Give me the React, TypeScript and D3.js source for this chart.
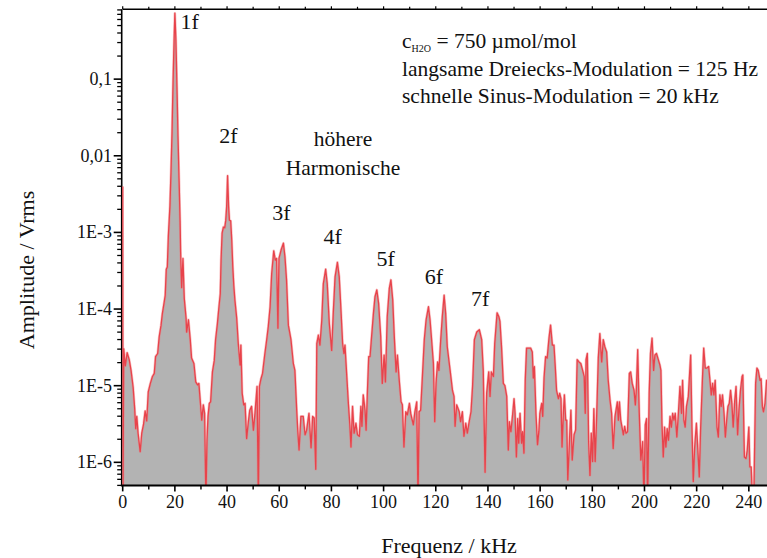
import React from "react";
import * as d3 from "d3";

// Frequency (kHz) of each vertex of the spectrum
const freqKHz = [
  0, 0.1, 0.4, 1.0, 1.7, 2.5, 3.2, 4.0, 4.6, 5.0, 5.4, 5.9, 6.7, 7.3, 8.0, 8.6, 9.2, 9.8, 10.6, 11.4,
  12.1, 12.6, 13.4, 14.0, 14.7, 15.2, 15.9, 16.3, 16.7, 17.1, 17.5, 18.1, 18.5, 18.9, 19.3, 19.7, 20.0, 20.4, 20.8, 21.2,
  21.6, 22.0, 22.2, 22.6, 23.1, 23.6, 24.3, 24.5, 25.2, 25.9, 26.4, 27.3, 28.0, 28.7, 29.2, 29.8, 30.3, 30.9, 31.4, 31.9,
  32.3, 32.7, 33.2, 33.7, 34.4, 35.1, 35.6, 36.3, 36.9, 37.4, 37.7, 38.1, 38.6, 39.1, 39.5, 39.85, 40.2, 40.6, 40.9, 41.4,
  41.8, 42.2, 42.6, 43.0, 43.7, 44.3, 45.0, 45.3, 45.8, 46.4, 46.9, 47.5, 48.1, 48.7, 49.4, 50.1, 50.7, 51.5, 52.0, 52.4,
  53.0, 53.6, 54.5, 55.2, 55.8, 56.5, 57.1, 57.9, 58.5, 59.0, 59.5, 59.9, 60.7, 61.6, 62.2, 62.8, 63.5, 64.5, 65.4, 66.0,
  66.7, 67.1, 67.6, 68.3, 69.2, 69.9, 70.5, 71.4, 72.2, 72.8, 73.4, 74.0, 74.4, 75.0, 75.6, 76.3, 76.9, 77.8, 78.4, 79.2,
  80.1, 80.7, 81.4, 82.3, 83.0, 83.6, 84.3, 84.8, 85.2, 85.9, 86.5, 87.1, 87.5, 88.1, 88.7, 89.4, 90.0, 90.7, 91.3, 91.7,
  92.2, 92.9, 93.3, 93.8, 94.3, 94.8, 95.4, 96.1, 96.7, 97.4, 98.1, 98.9, 99.5, 100.2, 100.7, 101.4, 102.2, 102.8, 103.5, 104.1,
  104.8, 105.3, 106.0, 106.7, 107.2, 107.8, 108.5, 109.1, 109.9, 110.4, 111.4, 112.0, 112.7, 113.2, 113.6, 114.2, 115.0, 115.6, 116.3, 117.2,
  117.8, 118.4, 119.1, 119.6, 120.1, 120.7, 121.2, 121.9, 122.5, 123.2, 123.8, 124.4, 125.5, 126.4, 127.0, 127.4, 128.0, 129.0, 129.5, 130.2,
  130.8, 131.5, 132.1, 132.7, 133.5, 134.1, 134.8, 135.7, 136.7, 137.6, 138.2, 138.9, 139.5, 140.3, 140.8, 141.3, 142.1, 142.6, 143.5, 144.2,
  144.6, 145.2, 145.9, 146.5, 147.2, 147.8, 148.2, 148.8, 149.5, 150.0, 150.4, 150.9, 151.4, 151.8, 152.3, 152.9, 153.3, 153.8, 154.3, 154.8,
  155.5, 156.4, 157.0, 157.4, 157.8, 158.4, 159.0, 159.5, 159.9, 160.6, 161.0, 161.5, 162.1, 162.7, 163.4, 164.0, 164.7, 165.3, 165.8, 166.3,
  167.0, 167.5, 168.0, 168.4, 168.9, 169.3, 169.8, 170.2, 170.6, 171.4, 171.8, 172.3, 173.0, 173.6, 174.2, 174.9, 175.6, 176.3, 176.9, 177.3,
  177.6, 178.1, 178.6, 179.1, 179.6, 180.1, 180.6, 181.1, 181.7, 182.3, 182.9, 183.6, 184.2, 184.8, 185.5, 186.1, 186.8, 187.4, 188.0, 188.7,
  189.6, 190.0, 190.4, 190.9, 191.9, 192.4, 192.9, 193.5, 194.2, 194.7, 195.3, 196.0, 196.5, 196.9, 197.4, 198.0, 198.6, 199.3, 199.8, 200.3,
  200.8, 201.2, 201.8, 202.3, 202.9, 203.5, 204.0, 204.6, 205.3, 205.9, 206.3, 206.7, 207.2, 207.7, 208.2, 208.7, 209.2, 209.8, 210.3, 210.8,
  211.3, 211.8, 212.4, 213.0, 213.6, 214.2, 214.6, 215.1, 215.6, 216.1, 216.8, 217.3, 217.7, 218.2, 218.7, 219.2, 219.9, 220.4, 221.0, 221.5,
  222.2, 222.7, 223.3, 223.9, 224.6, 225.1, 225.6, 226.1, 226.6, 227.1, 227.8, 228.3, 228.9, 229.4, 229.9, 230.5, 231.0, 231.5, 232.0, 232.5,
  233.0, 233.5, 234.0, 234.6, 235.1, 235.7, 236.2, 236.8, 237.4, 237.7, 238.3, 238.9, 239.4, 240.0, 240.4, 240.9, 241.4, 241.9, 242.6, 243.1,
  243.6, 244.3, 244.7, 245.2, 245.6, 246.2, 246.8, 247.5,
];

// log10 of the amplitude (Vrms) at each vertex
const logAmplitude = [
  -2.40, -6.5, -4.52, -4.74, -4.57, -4.66, -4.80, -5.02, -5.30, -5.56, -5.40, -5.62, -5.86, -5.62, -5.50, -5.33, -5.46, -5.08, -4.97, -4.88,
  -4.84, -4.62, -4.58, -4.36, -4.21, -4.06, -3.91, -3.82, -3.48, -3.45, -3.05, -2.66, -2.22, -1.70, -1.04, -0.49, -0.14, -0.49, -1.10, -1.75,
  -2.30, -2.85, -3.25, -3.72, -3.34, -3.86, -4.12, -4.30, -4.14, -4.40, -4.64, -4.71, -4.95, -4.99, -4.97, -5.23, -5.45, -5.25, -5.36, -6.5,
  -5.71, -5.40, -5.23, -5.21, -4.82, -4.67, -4.40, -4.19, -3.97, -3.80, -3.36, -3.01, -2.93, -2.94, -2.84, -2.66, -2.26, -2.66, -2.84, -2.85,
  -3.10, -3.45, -3.70, -3.88, -4.12, -4.45, -4.73, -4.47, -5.10, -5.25, -5.23, -5.69, -5.49, -5.32, -5.27, -5.58, -5.36, -5.01, -6.5, -5.01,
  -4.91, -4.84, -4.58, -4.40, -4.23, -3.97, -3.54, -3.24, -3.36, -3.34, -4.25, -3.34, -3.23, -3.14, -3.32, -3.62, -4.21, -4.40, -4.71, -4.80,
  -5.32, -5.58, -5.84, -5.40, -5.40, -5.64, -5.58, -5.36, -5.81, -5.40, -5.42, -6.09, -4.45, -4.34, -4.47, -4.15, -3.67, -3.48, -3.67, -4.19,
  -4.54, -4.06, -3.58, -3.39, -3.58, -3.97, -4.45, -4.58, -4.47, -4.88, -5.23, -5.53, -5.80, -5.27, -5.62, -5.49, -5.64, -5.66, -5.27, -5.53,
  -5.12, -5.32, -5.58, -5.08, -4.62, -4.62, -4.36, -4.06, -3.84, -3.75, -3.93, -4.36, -4.97, -4.60, -4.95, -4.10, -3.73, -3.62, -3.88, -4.36,
  -4.82, -4.60, -4.93, -5.21, -5.25, -5.80, -5.34, -5.38, -5.23, -5.36, -5.51, -5.34, -5.21, -6.5, -5.34, -5.32, -4.80, -4.40, -4.14, -3.97,
  -4.14, -4.40, -4.71, -5.47, -4.97, -4.69, -4.80, -4.40, -4.10, -3.82, -4.06, -4.49, -4.80, -5.06, -5.14, -5.53, -5.25, -5.34, -5.47, -5.34,
  -5.66, -5.49, -5.62, -5.49, -5.34, -5.01, -4.40, -4.30, -4.27, -4.40, -4.80, -6.13, -5.10, -4.82, -5.14, -4.82, -4.88, -4.45, -4.05, -4.10,
  -4.16, -4.49, -4.97, -5.00, -5.14, -5.84, -5.47, -5.60, -5.36, -5.17, -5.36, -5.93, -5.43, -5.75, -5.36, -5.75, -5.60, -5.88, -4.93, -4.51,
  -4.51, -4.51, -4.56, -4.90, -4.75, -5.36, -5.77, -5.60, -5.36, -5.23, -5.40, -4.90, -4.62, -4.64, -4.38, -4.21, -4.47, -4.47, -4.75, -5.06,
  -5.17, -5.10, -5.17, -5.80, -5.36, -5.12, -5.45, -5.45, -6.23, -5.60, -5.32, -5.97, -5.64, -5.58, -4.66, -4.69, -4.71, -4.80, -4.88, -5.36,
  -4.66, -4.58, -5.73, -6.17, -5.62, -5.99, -5.30, -5.99, -5.36, -4.64, -4.32, -4.69, -4.40, -4.49, -4.56, -4.93, -5.19, -5.36, -5.82, -5.40,
  -5.21, -5.45, -5.21, -5.45, -5.64, -5.53, -5.62, -5.60, -4.84, -4.82, -4.97, -5.06, -5.25, -5.03, -4.53, -5.36, -5.97, -5.73, -6.5, -5.51,
  -5.43, -6.5, -5.10, -4.58, -4.38, -4.80, -4.60, -4.58, -4.66, -4.73, -4.80, -5.49, -5.93, -5.54, -5.80, -5.56, -5.71, -5.40, -5.54, -5.36,
  -5.45, -5.36, -5.67, -5.36, -5.01, -5.36, -4.93, -5.45, -5.54, -5.27, -5.14, -4.84, -4.60, -5.54, -6.25, -5.82, -5.49, -5.80, -6.19, -5.58,
  -4.93, -4.51, -4.77, -4.77, -4.75, -4.93, -5.12, -4.97, -5.12, -4.93, -5.54, -5.67, -5.12, -5.27, -5.12, -5.36, -5.67, -5.45, -5.27, -5.23,
  -5.06, -5.23, -5.54, -5.19, -5.01, -5.64, -5.32, -5.06, -4.88, -4.86, -5.93, -5.95, -5.84, -5.54, -6.06, -6.06, -6.5, -6.5, -4.97, -4.77,
  -4.80, -4.93, -4.91, -5.27, -5.34, -5.23, -4.93, -4.95,
];

const xTickValues = [0, 20, 40, 60, 80, 100, 120, 140, 160, 180, 200, 220, 240];
const xMinorValues = [10, 30, 50, 70, 90, 110, 130, 150, 170, 190, 210, 230];
const yTickValues = [1e-6, 1e-5, 1e-4, 1e-3, 1e-2, 1e-1];
const yTickLabels = ["1E-6", "1E-5", "1E-4", "1E-3", "0,01", "0,1"];

const harmonicLabels = ["1f", "2f", "3f", "4f", "5f", "6f", "7f"];
const harmonicLabelFreq = [22.2, 37.0, 57.3, 77.0, 97.3, 115.8, 133.5];
const harmonicLabelAmp = [0.45, 0.0145, 1.45e-3, 7.0e-4, 3.6e-4, 2.1e-4, 1.1e-4];

const infoLines = ["langsame Dreiecks-Modulation = 125 Hz", "schnelle Sinus-Modulation = 20 kHz"];

const FONT = "'Liberation Serif', 'Times New Roman', Times, serif";

export default function App() {
  const W = 767;
  const H = 558;
  const left = 122.7;
  const right = 767.1;
  const top = 9.3;
  const bottom = 485.4;

  const x = d3.scaleLinear().domain([0, 247]).range([left, right]);
  const y = d3.scaleLog().domain([5e-7, 0.815]).range([bottom, top]);

  const data = freqKHz.map((f, i) => ({ f, a: Math.pow(10, logAmplitude[i]) }));

  const area = d3
    .area<{ f: number; a: number }>()
    .x((d) => x(d.f))
    .y0(bottom)
    .y1((d) => y(d.a));
  const line = d3
    .line<{ f: number; a: number }>()
    .x((d) => x(d.f))
    .y((d) => y(d.a));

  const yMinor: number[] = [];
  for (let e = -7; e <= 0; e++) {
    for (let k = 2; k <= 9; k++) {
      const v = k * Math.pow(10, e);
      if (v >= 5e-7 * 0.999 && v <= 0.815) yMinor.push(v);
    }
  }

  return (
    <svg
      width={W}
      height={H}
      style={{ position: "absolute", left: 0, top: 0, background: "#fff" }}
      fontFamily={FONT}
    >
      <defs>
        <clipPath id="plotClip">
          <rect x={left - 0.5} y={top} width={right - left + 0.5} height={bottom - top} />
        </clipPath>
      </defs>

      {/* frame */}
      <line x1={left} x2={right} y1={top} y2={top} stroke="#000" strokeWidth={1.6} />
      <line x1={left - 1} x2={left - 1} y1={top} y2={bottom} stroke="#000" strokeWidth={1.6} />

      <g clipPath="url(#plotClip)">
        <path d={area(data) ?? ""} fill="#b3b3b3" />
        <path d={line(data) ?? ""} fill="none" stroke="#f2787c" strokeWidth={2.6} strokeOpacity={0.45} strokeLinejoin="round" />
        <path d={line(data) ?? ""} fill="none" stroke="#e8434b" strokeWidth={1.3} strokeLinejoin="round" />
      </g>

      <line x1={left - 1.8} x2={right} y1={bottom} y2={bottom} stroke="#000" strokeWidth={2} />

      {/* x ticks */}
      {xTickValues.map((v) => (
        <g key={"xt" + v}>
          <line x1={x(v)} x2={x(v)} y1={bottom} y2={bottom + 6} stroke="#000" strokeWidth={1.6} />
          <line x1={x(v)} x2={x(v)} y1={top} y2={top - 3} stroke="#000" strokeWidth={1.2} />
          <text x={x(v)} y={508} fontSize={18} textAnchor="middle" fill="#111">
            {v}
          </text>
        </g>
      ))}
      {xMinorValues.map((v) => (
        <g key={"xm" + v}>
          <line x1={x(v)} x2={x(v)} y1={bottom} y2={bottom + 4} stroke="#000" strokeWidth={1.4} />
          <line x1={x(v)} x2={x(v)} y1={top} y2={top - 2.5} stroke="#000" strokeWidth={1.2} />
        </g>
      ))}

      {/* y ticks */}
      {yTickValues.map((v, i) => (
        <g key={"yt" + v}>
          <line x1={left - 1} x2={left - 9} y1={y(v)} y2={y(v)} stroke="#000" strokeWidth={1.6} />
          <text x={112} y={y(v) + 6} fontSize={18} textAnchor="end" fill="#111">
            {yTickLabels[i]}
          </text>
        </g>
      ))}
      {yMinor.map((v) => (
        <line key={"ym" + v} x1={left - 1} x2={left - 5.5} y1={y(v)} y2={y(v)} stroke="#000" strokeWidth={1.3} />
      ))}

      {/* axis titles */}
      <text x={449} y={553} fontSize={22} textAnchor="middle" fill="#111">
        Frequenz / kHz
      </text>
      <text transform="translate(34,270) rotate(-90)" fontSize={22} textAnchor="middle" fill="#111">
        Amplitude / Vrms
      </text>

      {/* harmonic labels */}
      {harmonicLabels.map((t, i) => (
        <text key={t} x={x(harmonicLabelFreq[i])} y={y(harmonicLabelAmp[i])} fontSize={22} fill="#111">
          {t}
        </text>
      ))}
      <text x={343} y={146} fontSize={21.5} textAnchor="middle" fill="#111">
        höhere
      </text>
      <text x={343} y={175} fontSize={21.5} textAnchor="middle" fill="#111">
        Harmonische
      </text>

      {/* info block */}
      <text x={402} y={48} fontSize={21.5} fill="#111">
        c
        <tspan fontSize={10} dy={4}>
          H2O
        </tspan>
        <tspan dy={-4}> = 750 µmol/mol</tspan>
      </text>
      {infoLines.map((t, i) => (
        <text key={t} x={402} y={76 + i * 26.5} fontSize={21.5} fill="#111">
          {t}
        </text>
      ))}
    </svg>
  );
}
